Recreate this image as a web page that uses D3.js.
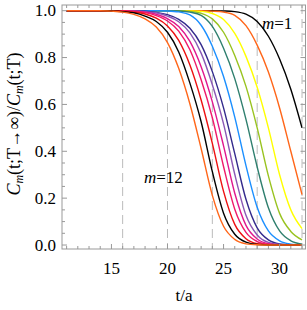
<!DOCTYPE html>
<head>
  <meta charset="utf-8">
  <script src="https://d3js.org/d3.v7.min.js"></script>
<style>
body { margin:0; background:#fff; }
text { font-family: "Liberation Serif", "Times New Roman", Times, serif; }
.frame { fill:none; stroke:#999; stroke-width:1px; }
.tick { stroke:#999; stroke-width:1px; }
.grid { stroke:#bbb; stroke-width:1px; stroke-dasharray:9,5; }
.curve { fill:none; stroke-width:1.4px; }
</style>
</head>

<body>
<script>
// t/a sample points shared by all curves
var tGrid = [11, 12, 14, 15, 16, 17, 18, 19, 20, 21, 22, 23, 24, 25, 26, 27, 28, 29, 30, 31, 32];

// ratio values, m=1 (right) ... leftmost
var m1  = [1,1,1,1,1,1,1,1,1,1,1,1,1,0.999,0.996,0.985,0.954,0.891,0.794,0.665,0.5];
var m2  = [1,1,1,1,1,1,1,1,1,1,1,1,0.998,0.994,0.98,0.936,0.853,0.738,0.585,0.40,0.215];
var m3  = [1,1,1,1,1,1,1,1,1,1,0.999,0.997,0.988,0.962,0.903,0.805,0.673,0.5,0.30,0.15,0.07];
var m4  = [1,1,1,1,1,1,1,1,1,1,0.997,0.989,0.965,0.908,0.809,0.677,0.5,0.295,0.135,0.058,0.022];
var m5  = [1,1,1,1,1,1,1,1,1,0.999,0.994,0.98,0.933,0.84,0.71,0.536,0.333,0.159,0.06,0.018,0.004];
var m6  = [1,1,1,1,1,1,1,1,0.999,0.995,0.982,0.938,0.848,0.719,0.546,0.339,0.161,0.06,0.018,0.004,0];
var m7  = [1,1,1,1,1,0.999,0.998,0.993,0.983,0.963,0.925,0.855,0.74,0.585,0.39,0.195,0.073,0.022,0.005,0.001,0];
var m8  = [1,1,1,1,1,0.999,0.996,0.991,0.977,0.953,0.905,0.819,0.684,0.517,0.302,0.127,0.043,0.011,0.002,0,0];
var m9  = [1,1,1,1,1,0.998,0.994,0.985,0.966,0.933,0.869,0.761,0.611,0.423,0.221,0.084,0.026,0.006,0.001,0,0];
var m10 = [1,1,1,1,0.999,0.997,0.992,0.979,0.956,0.913,0.833,0.705,0.543,0.335,0.153,0.054,0.015,0.003,0,0,0];
var m11 = [1,1,1,1,0.998,0.994,0.986,0.968,0.935,0.873,0.768,0.619,0.434,0.229,0.088,0.027,0.006,0.001,0,0,0];
var m12 = [1,1,1,0.999,0.996,0.991,0.977,0.954,0.908,0.824,0.691,0.526,0.313,0.136,0.046,0.012,0.002,0,0,0,0];
var m13 = [1,1,1,0.998,0.994,0.984,0.965,0.93,0.864,0.754,0.602,0.412,0.212,0.08,0.024,0.005,0.001,0,0,0,0];

var series = [m1, m2, m3, m4, m5, m6, m7, m8, m9, m10, m11, m12, m13];
var colors = ["#000000", "#ff6619", "#ffff00", "#99c31f", "#2f7f6e", "#1b8fff",
              "#332a8c", "#8a58b5", "#e0168e", "#f0196a", "#ee1111", "#000000", "#ff6619"];

var xTicks = [15, 20, 25, 30];
var yTicks = [0.0, 0.2, 0.4, 0.6, 0.8, 1.0];
var gridT = [16, 20, 24, 28, 32];

var W = 307, H = 310;
var pLeft = 62, pRight = 305.5, pTop = 5, pBottom = 249;

var x = d3.scaleLinear().domain([10.59, 32.31]).range([pLeft, pRight]);
var y = d3.scaleLinear().domain([-0.017, 1.0243]).range([pBottom, pTop]);

var svg = d3.select("body").append("svg")
    .attr("width", W)
    .attr("height", H);

// dashed verticals
svg.selectAll(".grid").data(gridT).enter().append("line")
    .attr("class", "grid")
    .attr("x1", d => x(d)).attr("x2", d => x(d))
    .attr("y1", pTop).attr("y2", pBottom);

// curves
var line = d3.line()
    .x((d, i) => x(tGrid[i]))
    .y(d => y(d))
    .curve(d3.curveMonotoneX);

svg.selectAll(".curve").data(series).enter().append("path")
    .attr("class", "curve")
    .attr("stroke", (d, i) => colors[i])
    .attr("d", d => line(d));

// frame
svg.append("rect")
    .attr("class", "frame")
    .attr("x", pLeft).attr("y", pTop)
    .attr("width", pRight - pLeft).attr("height", pBottom - pTop);

// ticks on all four sides, pointing inward
var xMinor = d3.range(11, 33).filter(d => xTicks.indexOf(d) < 0);
var yMinor = d3.range(0, 21).map(d => d * 0.05).filter((d, i) => i % 4 !== 0);

function xTick(vals, len) {
  vals.forEach(v => {
    svg.append("line").attr("class", "tick")
      .attr("x1", x(v)).attr("x2", x(v)).attr("y1", pBottom).attr("y2", pBottom - len);
    svg.append("line").attr("class", "tick")
      .attr("x1", x(v)).attr("x2", x(v)).attr("y1", pTop).attr("y2", pTop + len);
  });
}
function yTick(vals, len) {
  vals.forEach(v => {
    svg.append("line").attr("class", "tick")
      .attr("x1", pLeft).attr("x2", pLeft + len).attr("y1", y(v)).attr("y2", y(v));
    svg.append("line").attr("class", "tick")
      .attr("x1", pRight).attr("x2", pRight - len).attr("y1", y(v)).attr("y2", y(v));
  });
}
xTick(xTicks, 5); xTick(xMinor, 3);
yTick(yTicks, 5); yTick(yMinor, 3);

// tick labels
svg.selectAll(".xl").data(xTicks).enter().append("text")
    .attr("x", d => x(d)).attr("y", 274)
    .attr("text-anchor", "middle")
    .style("font-size", "17px")
    .text(d => d);

svg.selectAll(".yl").data(yTicks).enter().append("text")
    .attr("x", 56).attr("y", d => y(d) + 5.5)
    .attr("text-anchor", "end")
    .style("font-size", "17px")
    .text(d => d.toFixed(1));

// axis titles
svg.append("text")
    .attr("x", 184).attr("y", 301)
    .attr("text-anchor", "middle")
    .style("font-size", "17px")
    .text("t/a");

var yt = svg.append("text")
    .attr("transform", "translate(20,124) rotate(-90)")
    .attr("text-anchor", "middle")
    .style("font-size", "18px");
yt.append("tspan").style("font-style", "italic").text("C");
yt.append("tspan").style("font-style", "italic").style("font-size", "12px").attr("dy", 3).text("m");
yt.append("tspan").attr("dy", -3).text("(t;T\u2192\u221e)/");
yt.append("tspan").style("font-style", "italic").text("C");
yt.append("tspan").style("font-style", "italic").style("font-size", "12px").attr("dy", 3).text("m");
yt.append("tspan").attr("dy", -3).text("(t;T)");

// curve labels
var l1 = svg.append("text").attr("x", 262).attr("y", 29).style("font-size", "17px");
l1.append("tspan").style("font-style", "italic").text("m");
l1.append("tspan").text("=1");

var l12 = svg.append("text").attr("x", 144).attr("y", 183).style("font-size", "17px");
l12.append("tspan").style("font-style", "italic").text("m");
l12.append("tspan").text("=12");
</script>
</body>
